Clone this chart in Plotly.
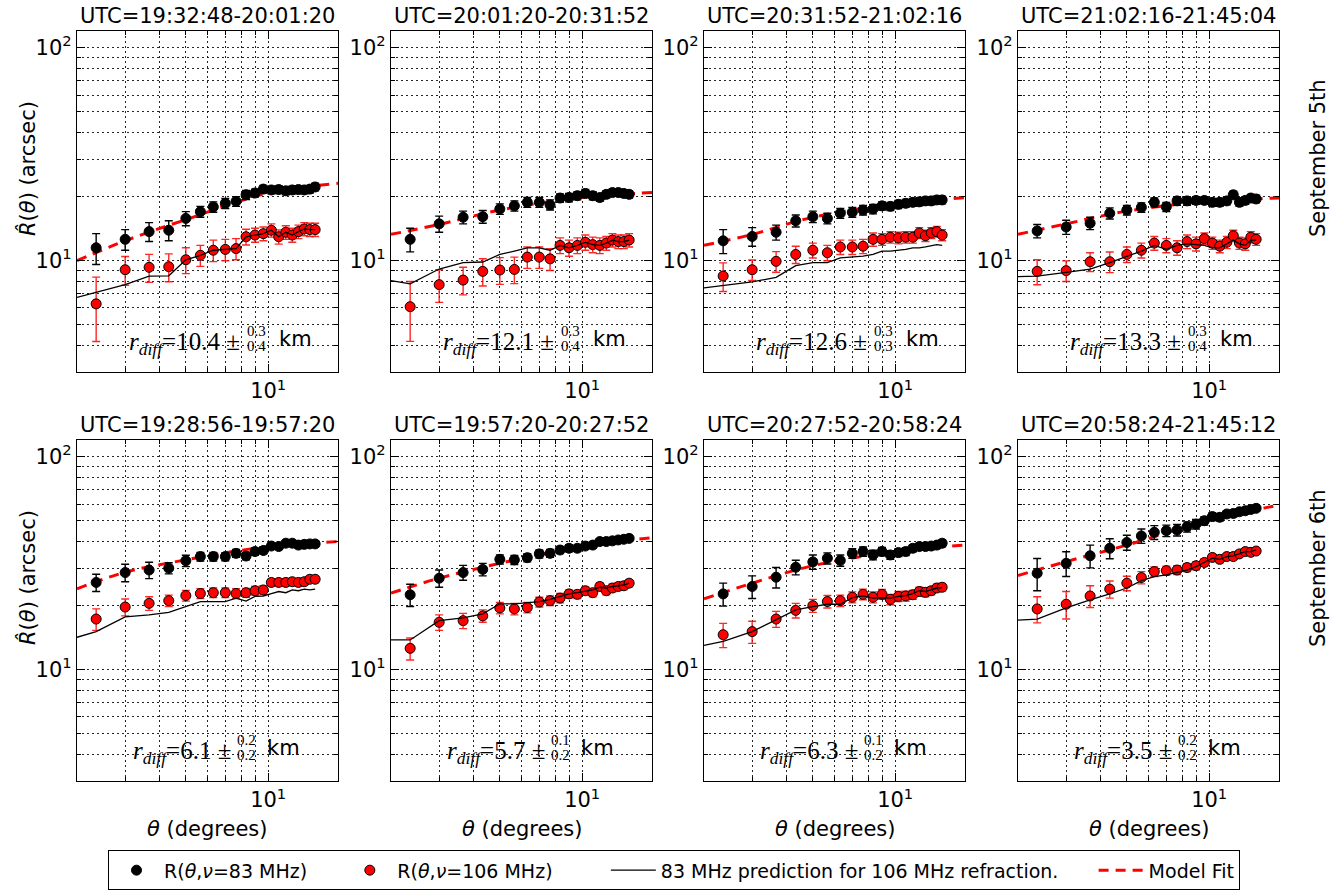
import math
import plotly.graph_objects as go

# ---------------- data ----------------
THETA = [2.35, 3.0, 3.67, 4.33, 5.0, 5.65, 6.3, 6.97, 7.63, 8.3,
         8.95, 9.6, 10.27, 10.93, 11.6, 12.25, 12.9, 13.55, 14.2, 14.85]
PRED_THETA = [2.0, 2.35, 3.0, 3.67, 4.33, 5.0, 5.65, 6.3, 6.97, 7.63, 8.3,
              8.95, 9.6, 10.27, 10.93, 11.6, 12.25, 12.9, 13.55, 14.2, 14.85]
FIT_THETA = [2.0, 3.0, 5.0, 10.0, 18.0]

TITLES_SEP5 = ["UTC=19:32:48-20:01:20", "UTC=20:01:20-20:31:52",
               "UTC=20:31:52-21:02:16", "UTC=21:02:16-21:45:04"]
TITLES_SEP6 = ["UTC=19:28:56-19:57:20", "UTC=19:57:20-20:27:52",
               "UTC=20:27:52-20:58:24", "UTC=20:58:24-21:45:12"]

RDIFF_SEP5 = [("10.4", "0.3", "0.4"), ("12.1", "0.3", "0.4"),
              ("12.6", "0.3", "0.3"), ("13.3", "0.3", "0.4")]
RDIFF_SEP6 = [("6.1", "0.2", "0.2"), ("5.7", "0.1", "0.2"),
              ("6.3", "0.1", "0.2"), ("3.5", "0.2", "0.2")]

# 83 MHz measurements (arcsec)
R83_SEP5 = [
    [11.5, 12.6, 13.7, 13.9, 15.8, 17.0, 17.9, 18.6, 19.0, 20.4, 20.8, 21.7, 21.5, 21.6, 21.3, 21.5, 21.6, 21.5, 21.7, 22.2],
    [12.6, 14.9, 16.0, 16.1, 17.5, 18.1, 18.8, 18.8, 18.3, 19.7, 19.8, 20.2, 20.7, 20.2, 19.8, 20.5, 20.9, 20.9, 20.7, 20.5],
    [12.4, 13.0, 13.6, 15.4, 16.1, 15.8, 16.7, 16.9, 17.3, 17.5, 18.1, 18.0, 18.4, 18.6, 18.8, 18.9, 19.1, 19.1, 19.3, 19.3],
    [13.8, 14.4, 15.0, 16.7, 17.3, 17.8, 18.8, 17.9, 19.1, 19.1, 19.2, 19.2, 18.8, 18.8, 19.1, 20.4, 18.8, 19.2, 19.7, 19.5],
]
E83_SEP5 = [
    [1.9, 1.4, 1.4, 1.5, 1.2, 1.0, 1.0, 1.0, 1.0, 1.0, 0.9, 0.9, 0.9, 0.9, 0.9, 0.9, 0.9, 0.9, 0.9, 0.9],
    [1.6, 1.3, 1.1, 1.1, 1.0, 1.0, 1.0, 1.0, 1.0, 0.9, 0.9, 0.9, 0.9, 0.9, 0.8, 0.8, 0.8, 0.8, 0.8, 0.8],
    [1.6, 1.3, 1.1, 1.0, 1.0, 0.9, 0.9, 0.9, 0.9, 0.9, 0.8, 0.8, 0.8, 0.8, 0.8, 0.8, 0.8, 0.8, 0.8, 0.8],
    [1.0, 1.1, 1.0, 1.0, 0.9, 0.9, 0.9, 0.9, 0.9, 0.9, 0.8, 0.8, 0.8, 0.8, 0.8, 0.8, 0.8, 0.8, 0.8, 0.8],
]
R83_SEP6 = [
    [25.7, 28.6, 29.4, 30.0, 32.5, 34.0, 34.0, 34.0, 35.2, 34.2, 35.9, 36.3, 38.1, 37.9, 39.3, 39.3, 38.5, 38.8, 39.0, 39.0],
    [22.5, 26.9, 28.6, 29.6, 33.0, 32.8, 33.6, 35.0, 35.2, 36.5, 37.2, 37.2, 38.1, 38.5, 40.0, 40.0, 40.3, 40.7, 41.0, 41.4],
    [22.7, 24.6, 27.2, 30.3, 32.1, 33.4, 32.6, 35.2, 35.9, 34.6, 35.9, 34.6, 35.5, 35.9, 37.2, 37.9, 37.9, 38.1, 38.5, 39.3],
    [28.4, 31.6, 34.3, 37.2, 39.6, 42.5, 44.2, 45.0, 45.3, 46.9, 48.3, 50.1, 52.4, 52.0, 53.9, 54.2, 55.2, 55.8, 56.6, 57.3],
]
E83_SEP6 = [
    [2.4, 2.7, 2.6, 1.8, 2.0, 1.6, 1.6, 1.5, 1.5, 1.4, 1.4, 1.3, 1.3, 1.2, 1.2, 1.2, 1.2, 1.2, 1.2, 1.2],
    [2.7, 2.5, 2.3, 2.0, 1.6, 1.6, 1.5, 1.5, 1.5, 1.4, 1.4, 1.3, 1.3, 1.3, 1.3, 1.3, 1.3, 1.3, 1.3, 1.3],
    [2.8, 3.0, 3.0, 2.4, 2.5, 2.0, 2.0, 1.8, 1.8, 1.8, 1.6, 1.6, 1.5, 1.5, 1.4, 1.4, 1.4, 1.4, 1.4, 1.4],
    [4.9, 4.2, 4.2, 4.0, 3.2, 3.3, 3.3, 2.8, 2.8, 2.6, 2.5, 2.3, 2.2, 2.1, 2.0, 2.0, 1.9, 1.8, 1.8, 1.8],
]

# 106 MHz measurements (arcsec)
R106_SEP5 = [
    [6.27, 9.07, 9.31, 9.37, 10.1, 10.6, 11.2, 11.3, 11.4, 12.96, 13.2, 13.4, 13.9, 12.96, 13.6, 13.2, 13.7, 14.1, 14.0, 14.0],
    [6.08, 7.72, 8.11, 8.91, 9.04, 9.1, 10.4, 10.4, 10.2, 11.8, 11.5, 11.8, 12.2, 11.9, 11.8, 12.1, 12.5, 12.3, 12.3, 12.5],
    [8.47, 9.07, 9.93, 10.7, 11.2, 10.9, 11.6, 11.6, 11.7, 12.6, 12.6, 12.9, 12.8, 12.9, 12.9, 13.5, 13.1, 13.5, 13.7, 13.2],
    [8.91, 8.98, 9.89, 9.89, 10.7, 11.2, 12.1, 11.8, 11.5, 12.3, 12.0, 12.7, 12.1, 11.7, 12.2, 13.1, 12.1, 12.0, 12.9, 12.6],
]
E106_SEP5 = [
    [2.1, 1.4, 1.4, 1.4, 1.4, 1.2, 1.3, 1.3, 1.3, 1.1, 1.0, 1.0, 1.0, 1.0, 1.0, 1.0, 1.0, 1.0, 1.0, 1.0],
    [1.9, 1.35, 1.2, 1.3, 1.3, 1.3, 1.2, 1.2, 1.2, 1.0, 1.0, 1.0, 1.0, 1.0, 1.0, 0.9, 0.9, 0.9, 0.9, 0.9],
    [1.3, 1.0, 1.1, 1.0, 0.9, 0.9, 0.9, 0.9, 0.9, 0.9, 0.8, 0.8, 0.8, 0.8, 0.8, 0.8, 0.8, 0.8, 0.8, 0.8],
    [1.2, 1.0, 1.0, 1.1, 0.9, 0.9, 0.9, 0.9, 0.9, 0.9, 0.9, 0.8, 0.8, 0.8, 0.8, 0.8, 0.8, 0.8, 0.8, 0.8],
]
R106_SEP6 = [
    [17.3, 19.7, 20.5, 21.1, 22.3, 22.8, 23.0, 23.0, 22.8, 23.0, 23.5, 23.7, 25.7, 25.7, 25.7, 25.9, 25.7, 25.9, 26.6, 26.6],
    [12.6, 16.7, 17.0, 17.9, 19.5, 19.3, 19.6, 20.8, 21.1, 21.7, 22.7, 22.6, 23.5, 23.0, 24.6, 23.5, 24.2, 24.6, 24.8, 25.5],
    [14.6, 15.1, 17.3, 19.0, 20.0, 20.9, 21.1, 21.9, 22.6, 21.9, 22.6, 21.4, 22.1, 22.2, 22.5, 23.3, 23.1, 23.5, 24.2, 24.4],
    [19.3, 20.3, 22.2, 23.9, 25.5, 27.1, 28.9, 29.2, 29.4, 30.2, 30.8, 31.9, 33.7, 33.0, 34.0, 34.0, 35.0, 35.9, 35.6, 36.1],
]
E106_SEP6 = [
    [2.0, 1.8, 1.5, 1.3, 1.3, 1.2, 1.2, 1.2, 1.2, 1.1, 1.1, 1.1, 1.0, 1.0, 1.0, 1.0, 1.0, 1.0, 1.0, 1.0],
    [1.5, 1.4, 1.4, 1.2, 1.2, 1.2, 1.1, 1.1, 1.1, 1.1, 1.0, 1.0, 1.0, 1.0, 1.0, 1.0, 1.0, 1.0, 1.0, 1.0],
    [1.9, 1.8, 1.5, 1.5, 1.4, 1.4, 1.3, 1.3, 1.3, 1.3, 1.2, 1.2, 1.2, 1.2, 1.1, 1.1, 1.1, 1.0, 1.0, 1.0],
    [2.7, 3.0, 2.6, 2.2, 2.0, 1.8, 1.5, 1.4, 1.4, 1.3, 1.3, 1.3, 1.2, 1.2, 1.2, 1.1, 1.1, 1.0, 1.0, 1.0],
]

# 83 MHz prediction for 106 MHz refraction
PRED_SEP5 = [
    [6.73, 7.1, 7.72, 8.47, 8.49, 10.1, 10.6, 11.2, 11.3, 11.4, 12.96, 13.2, 13.4, 13.9, 12.96, 13.6, 13.2, 13.7, 14.1, 14.0, 14.0],
    [8.06, 7.78, 9.14, 9.8, 9.86, 10.7, 11.1, 11.5, 11.5, 11.2, 11.8, 11.5, 11.8, 12.2, 11.9, 11.8, 12.1, 12.5, 12.3, 12.3, 12.5],
    [7.45, 7.64, 7.95, 8.35, 9.48, 9.8, 9.8, 10.3, 10.4, 10.5, 10.7, 11.1, 11.1, 11.2, 11.3, 11.5, 11.5, 11.6, 11.8, 11.9, 11.8],
    [8.41, 8.47, 8.81, 9.14, 9.8, 10.5, 11.1, 11.8, 11.3, 11.8, 12.0, 11.9, 11.8, 11.5, 11.5, 12.0, 12.5, 12.0, 11.8, 12.5, 12.5],
]
PRED_SEP6 = [
    [14.2, 15.1, 17.7, 18.1, 18.6, 19.8, 20.9, 20.9, 20.9, 21.7, 21.0, 22.1, 22.2, 22.8, 23.3, 23.0, 23.7, 23.5, 23.9, 23.7, 23.9],
    [13.8, 13.8, 17.0, 17.5, 18.3, 20.4, 20.4, 20.7, 20.9, 21.4, 22.1, 22.7, 23.0, 23.3, 23.7, 24.4, 24.2, 24.6, 24.8, 25.0, 25.5],
    [13.0, 13.6, 15.1, 17.1, 19.1, 19.8, 20.3, 20.3, 21.8, 22.2, 21.7, 21.8, 21.7, 22.1, 22.3, 22.8, 23.5, 23.3, 23.7, 24.2, 24.3],
    [17.1, 17.3, 19.5, 21.3, 22.7, 24.2, 26.2, 27.4, 27.9, 28.6, 29.4, 30.5, 31.9, 33.4, 33.0, 34.0, 34.3, 35.2, 35.9, 35.9, 36.6],
]

# model fit
FIT_SEP5 = [
    [10.0, 12.4, 15.6, 20.8, 23.1],
    [13.3, 14.8, 17.3, 19.8, 20.9],
    [11.8, 13.3, 16.0, 18.5, 19.8],
    [13.3, 14.9, 17.1, 19.0, 19.7],
]
FIT_SEP6 = [
    [24.0, 28.7, 32.8, 37.9, 40.0],
    [22.9, 26.9, 31.6, 37.9, 41.7],
    [21.5, 25.5, 30.8, 35.9, 38.5],
    [27.7, 32.2, 38.5, 50.5, 59.3],
]

LEGEND_NAMES = ["R(<i>θ</i>,<i>ν</i>=83 MHz)", "R(<i>θ</i>,<i>ν</i>=106 MHz)",
                "83 MHz prediction for 106 MHz refraction.", "Model Fit"]

# ---------------- layout geometry ----------------
W, H = 1343, 893
COL_LEFT = [77, 391, 704, 1018]
PANEL_W = 261
ROW_TOP = [31, 440]
PANEL_H = 341
FONT = "DejaVu Sans"
SERIF = "Liberation Serif"
PAD = "&nbsp;" * 5

fig = go.Figure()
annotations = []
layout_axes = {}

Y_MINOR = [4, 5, 6, 7, 8, 9, 20, 30, 40, 50, 60, 70, 80, 90]
X_MINOR = [3, 4, 5, 6, 7, 8, 9]
GRID_DASH = "1.5px,3.5px"
GRID_COL = "rgba(0,0,0,0.85)"

rows = [
    (TITLES_SEP5, RDIFF_SEP5, R83_SEP5, E83_SEP5, R106_SEP5, E106_SEP5, PRED_SEP5, FIT_SEP5),
    (TITLES_SEP6, RDIFF_SEP6, R83_SEP6, E83_SEP6, R106_SEP6, E106_SEP6, PRED_SEP6, FIT_SEP6),
]

for r, (titles, rdiffs, r83, e83, r106, e106, pred, fit) in enumerate(rows):
    for c in range(4):
        n = r * 4 + c + 1
        xa = "x" if n == 1 else f"x{n}"
        ya = "y" if n == 1 else f"y{n}"
        show = (n == 1)

        x0 = COL_LEFT[c] / W
        x1 = (COL_LEFT[c] + PANEL_W) / W
        y1 = 1 - ROW_TOP[r] / H
        y0 = 1 - (ROW_TOP[r] + PANEL_H) / H

        common = dict(
            type="log", showline=True, linecolor="black", linewidth=1.3,
            mirror="ticks", ticks="inside", ticklen=8, tickwidth=1.2,
            tickcolor="black", showgrid=True, gridcolor=GRID_COL,
            griddash=GRID_DASH, gridwidth=1, zeroline=False,
            tickfont=dict(family=FONT, size=21, color="black"),
        )
        minor = dict(tickmode="array", ticks="inside", ticklen=4,
                     tickcolor="black", showgrid=True, gridcolor=GRID_COL,
                     griddash=GRID_DASH, gridwidth=1)
        layout_axes["xaxis" if n == 1 else f"xaxis{n}"] = dict(
            common, domain=[x0, x1], anchor=ya,
            range=[math.log10(2.0), math.log10(18.0)],
            tickmode="array", tickvals=[10], ticktext=["10<sup>1</sup>"],
            minor=dict(minor, tickvals=X_MINOR),
        )
        layout_axes["yaxis" if n == 1 else f"yaxis{n}"] = dict(
            common, domain=[y0, y1], anchor=xa,
            range=[math.log10(3.0), math.log10(120.0)],
            tickmode="array", tickvals=[10, 100],
            ticktext=["10<sup>1</sup>", "10<sup>2</sup>"],
            minor=dict(minor, tickvals=Y_MINOR),
        )

        # traces
        fig.add_trace(go.Scatter(
            x=FIT_THETA, y=fit[c], mode="lines", xaxis=xa, yaxis=ya,
            line=dict(color="red", width=3, dash="10px,7px", shape="spline"),
            name=LEGEND_NAMES[3], legendgroup="fit", showlegend=show, legendrank=4))
        fig.add_trace(go.Scatter(
            x=THETA, y=r83[c], mode="markers", xaxis=xa, yaxis=ya,
            marker=dict(color="black", size=10, line=dict(color="black", width=1)),
            error_y=dict(type="data", array=e83[c], color="black", thickness=1.4, width=4),
            name=LEGEND_NAMES[0] + PAD, legendgroup="b83",
            showlegend=show, legendrank=1))
        fig.add_trace(go.Scatter(
            x=THETA, y=r106[c], mode="markers", xaxis=xa, yaxis=ya,
            marker=dict(color="#ff0000", size=10, line=dict(color="black", width=1)),
            error_y=dict(type="data", array=e106[c], color="rgba(255,0,0,0.85)",
                         thickness=1.4, width=4),
            name=LEGEND_NAMES[1] + PAD + "&nbsp;&nbsp;&nbsp;", legendgroup="r106",
            showlegend=show, legendrank=2))
        fig.add_trace(go.Scatter(
            x=PRED_THETA, y=pred[c], mode="lines", xaxis=xa, yaxis=ya,
            line=dict(color="black", width=1.3),
            name=LEGEND_NAMES[2] + PAD, legendgroup="pred",
            showlegend=show, legendrank=3))

        # panel title
        annotations.append(dict(
            text=titles[c], xref=f"{xa} domain", yref=f"{ya} domain",
            x=0.5, y=1.0, xanchor="center", yanchor="bottom", yshift=1,
            showarrow=False, font=dict(family=FONT, size=21, color="black")))

        # r_diff annotation
        val, up, lo = rdiffs[c]
        wide = len(val) > 3
        f_pm = 0.632 if wide else 0.598
        f_st = 0.686 if wide else 0.651
        f_km = 0.766 if wide else 0.722
        annotations.append(dict(
            text=f"<i>r</i><sub><i>diff</i></sub>={val} ±",
            xref=f"{xa} domain", yref=f"{ya} domain", x=f_pm, y=0.085,
            xanchor="right", yanchor="middle", showarrow=False,
            font=dict(family=SERIF, size=25, color="black")))
        annotations.append(dict(
            text=up, xref=f"{xa} domain", yref=f"{ya} domain", x=f_st, y=0.120,
            xanchor="center", yanchor="middle", showarrow=False,
            font=dict(family=SERIF, size=15, color="black")))
        annotations.append(dict(
            text=lo, xref=f"{xa} domain", yref=f"{ya} domain", x=f_st, y=0.077,
            xanchor="center", yanchor="middle", showarrow=False,
            font=dict(family=SERIF, size=15, color="black")))
        annotations.append(dict(
            text="km", xref=f"{xa} domain", yref=f"{ya} domain", x=f_km, y=0.097,
            xanchor="left", yanchor="middle", showarrow=False,
            font=dict(family=FONT, size=21, color="black")))

        if r == 1:
            annotations.append(dict(
                text="<i>θ</i> (degrees)", xref=f"{xa} domain", yref="paper",
                x=0.5, y=1 - 829 / H, xanchor="center", yanchor="middle",
                showarrow=False, font=dict(family=FONT, size=21, color="black")))

# y-axis titles and row labels
for yc in (169, 578):
    annotations.append(dict(
        text="<i>R̂</i>(<i>θ</i>) (arcsec)", xref="paper", yref="paper",
        x=27 / W, y=1 - yc / H, xanchor="center", yanchor="middle",
        textangle=-90, showarrow=False,
        font=dict(family=FONT, size=21, color="black")))
for label, yc in (("September 5th", 158), ("September 6th", 568)):
    annotations.append(dict(
        text=label, xref="paper", yref="paper",
        x=1318 / W, y=1 - yc / H, xanchor="center", yanchor="middle",
        textangle=-90, showarrow=False,
        font=dict(family=FONT, size=21, color="black")))

fig.update_layout(
    width=W, height=H, autosize=False,
    margin=dict(l=0, r=0, t=0, b=0),
    paper_bgcolor="white", plot_bgcolor="white",
    showlegend=True,
    legend=dict(orientation="h", x=674 / W, xanchor="center", y=0.003, yanchor="bottom",
                bordercolor="black", borderwidth=1, bgcolor="white",
                font=dict(family=FONT, size=19, color="black"),
                itemwidth=45, traceorder="normal", tracegroupgap=0),
    annotations=annotations,
    **layout_axes,
)

fig.write_html("out.html", config={"displayModeBar": False},
               post_script="document.body.style.margin='0px';")
